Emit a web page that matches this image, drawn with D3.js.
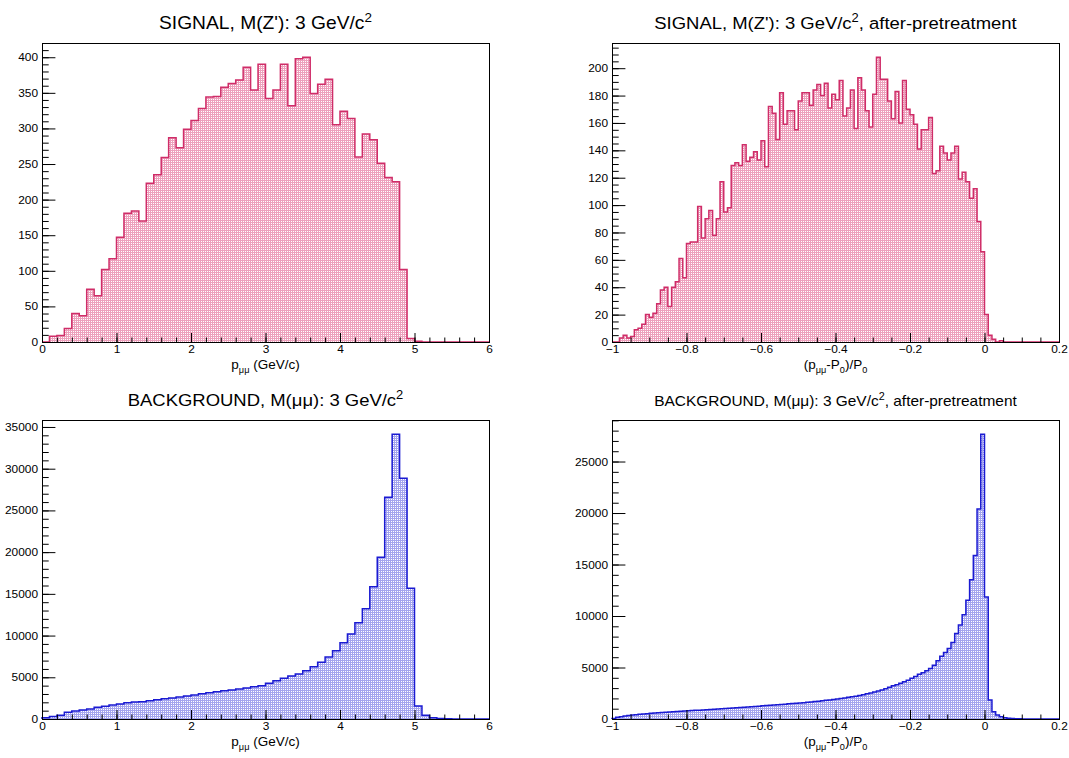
<!DOCTYPE html>
<html><head><meta charset="utf-8">
<script src="https://cdn.jsdelivr.net/npm/d3@7"></script>
<style>
html,body{margin:0;padding:0;background:#fff;}
svg{display:block;}
text{font-family:"Liberation Sans",Arial,Helvetica,sans-serif;fill:#000;}
</style>
</head><body>
<svg id="c" width="1069" height="758"></svg>
<script>
// ---------------- DATA ----------------
// Signal, p_mumu (GeV/c), 60 bins from 0 to 6
const signalP = [0,8,9,19,40,37,74,65,102,117,147,181,184,170,223,235,259,287,273,299,
  311,328,344,345,358,363,368,386,354,390,342,354,390,332,398,400,349,362,369,305,
  324,314,260,292,284,251,231,225,102,5,1,0,0,0,0,0,0,0,0,0];
// Signal, (p_mumu-P0)/P0, 120 bins from -1 to 0.2
const signalRel = [0,0,3,5,3,4,9,10,13,20, 18,21,28,38,40,26,40,44,61,47,
  72,73,73,99,76,90,96,78,90,117, 95,98,129,131,129,144,132,135,139,133,
  147,128,172,167,148,182,159,169,169,155, 176,182,182,173,184,188,180,189,171,181,
  177,191,165,171,184,156,193,184,169,157, 181,208,192,192,176,163,183,160,191,170,
  166,159,141,155,155,164,123,125,143,138, 133,138,143,119,124,117,105,112,88,66,
  20,5,2,0,1,0,0,0,0,0, 0,0,0,0,0,0,0,0,0,0];
// Background, p_mumu (GeV/c), 60 bins from 0 to 6
const backgroundP = [150,300,440,800,960,1080,1200,1400,1520,1680,1800,1960,2040,2080,2200,2320,2440,2520,2640,2760,
  2880,3040,3160,3280,3400,3480,3600,3720,3880,4000,4274,4594,4874,5153,5393,5792,6272,6791,7430,8189,
  9148,10187,11545,13222,15859,19375,26565,34130,28842,15659,1558,450,150,60,30,15,10,5,3,2];
// Background, (p_mumu-P0)/P0, 120 bins from -1 to 0.2
const backgroundRel = [60,170,230,290,340,380,420,455,490,520, 550,575,600,625,650,675,695,720,745,770,
  795,815,840,860,885,905,930,950,975,1000, 1025,1050,1075,1100,1125,1150,1175,1200,1225,1250,
  1280,1305,1330,1360,1385,1410,1440,1470,1500,1530, 1560,1590,1625,1660,1695,1730,1770,1810,1850,1890,
  1940,1990,2040,2100,2160,2220,2290,2360,2440,2520, 2610,2710,2806,2935,3080,3220,3330,3480,3613,3774,
  3950,4120,4355,4500,4680,4900,5230,5650,6100,6450, 6840,7420,8290,9130,10130,11520,13520,15870,20390,27650,
  11840,1840,710,390,230,130,70,40,25,15, 10,5,4,3,2,2,1,1,0,0];

const xTicksP = [0,1,2,3,4,5,6];
const xTicksRel = [-1,-0.8,-0.6,-0.4,-0.2,0,0.2];
const yTicksSignalP = [0,50,100,150,200,250,300,350,400];
const yTicksSignalRel = [0,20,40,60,80,100,120,140,160,180,200];
const yTicksBackgroundP = [0,5000,10000,15000,20000,25000,30000,35000];
const yTicksBackgroundRel = [0,5000,10000,15000,20000,25000];
const xDomainP = [0,6];
const xDomainRel = [-1,0.2];

// ---------------- LAYOUT ----------------
const svg = d3.select("#c");
svg.append("rect").attr("width",1069).attr("height",758).attr("fill","#fff");
const defs = svg.append("defs");
function makePattern(id, col){
  const p = defs.append("pattern").attr("id",id).attr("width",2).attr("height",2)
    .attr("patternUnits","userSpaceOnUse");
  p.append("rect").attr("width",2).attr("height",2).attr("fill",col);
  p.append("rect").attr("x",1).attr("y",1).attr("width",1).attr("height",1).attr("fill","#fff");
}
makePattern("patSig","#eda0bc");
makePattern("patBkg","#a4a4ee");

const SX = 1.08; // horizontal text stretch
function stretchText(sel){
  sel.each(function(){
    const t = d3.select(this);
    const tx = +t.attr("x") || 0;
    t.attr("transform", `translate(${tx},0) scale(${SX},1) translate(${-tx},0)`);
  });
}

const fmt = d3.format("~g");

const panels = [
  {values: signalP, xDomain: xDomainP, xTicks: xTicksP, xMinor: 0.2, yTicks: yTicksSignalP, yMinor: 10,
   left:42, right:489, top:43, bottom:342, pat:"patSig", line:"#cf2d68",
   title:["SIGNAL, M(Z'): 3 GeV/c","2",""], tsize:17.8, xtitle:"p"},
  {values: signalRel, xDomain: xDomainRel, xTicks: xTicksRel, xMinor: 0.05, yTicks: yTicksSignalRel, yMinor: 5,
   left:612, right:1059, top:43, bottom:342, pat:"patSig", line:"#cf2d68",
   title:["SIGNAL, M(Z'): 3 GeV/c","2",", after-pretreatment"], tsize:17.1, xtitle:"rel"},
  {values: backgroundP, xDomain: xDomainP, xTicks: xTicksP, xMinor: 0.2, yTicks: yTicksBackgroundP, yMinor: 1000,
   left:42, right:489, top:420, bottom:719, pat:"patBkg", line:"#1a1ad2",
   title:["BACKGROUND, M(\u03bc\u03bc): 3 GeV/c","2",""], tsize:17.1, xtitle:"p"},
  {values: backgroundRel, xDomain: xDomainRel, xTicks: xTicksRel, xMinor: 0.05, yTicks: yTicksBackgroundRel, yMinor: 1000,
   left:612, right:1059, top:420, bottom:719, pat:"patBkg", line:"#1a1ad2",
   title:["BACKGROUND, M(\u03bc\u03bc): 3 GeV/c","2",", after-pretreatment"], tsize:14.3, xtitle:"rel"}
];

panels.forEach(cfg => {
  const g = svg.append("g");
  const x = d3.scaleLinear().domain(cfg.xDomain).range([cfg.left, cfg.right]);
  const ymax = 1.05 * d3.max(cfg.values);
  const y = d3.scaleLinear().domain([0, ymax]).range([cfg.bottom, cfg.top]);
  const n = cfg.values.length;
  const w = (cfg.xDomain[1] - cfg.xDomain[0]) / n;
  const pts = [[x(cfg.xDomain[0]), y(0)]];
  cfg.values.forEach((v,i) => {
    const x0 = x(cfg.xDomain[0] + i*w), x1 = x(cfg.xDomain[0] + (i+1)*w);
    pts.push([x0, y(v)], [x1, y(v)]);
  });
  pts.push([x(cfg.xDomain[1]), y(0)]);
  const line = d3.line();
  g.append("path").attr("d", line(pts) + "Z").attr("fill", `url(#${cfg.pat})`);
  g.append("path").attr("d", line(pts)).attr("fill","none").attr("stroke", cfg.line)
    .attr("stroke-width", 1.5).attr("stroke-linejoin","miter");

  const W = cfg.right - cfg.left, H = cfg.bottom - cfg.top;
  const majX = 0.03*H, majY = 0.03*W;

  const xmin = d3.range(Math.round((cfg.xDomain[1]-cfg.xDomain[0])/cfg.xMinor)+1).map(i => cfg.xDomain[0] + i*cfg.xMinor);
  const gxm = g.append("g").attr("transform",`translate(0,${cfg.bottom})`)
    .call(d3.axisBottom(x).tickValues(xmin).tickFormat(()=>"").tickSizeInner(-majX/2).tickSizeOuter(0));
  const gx = g.append("g").attr("transform",`translate(0,${cfg.bottom})`)
    .call(d3.axisBottom(x).tickValues(cfg.xTicks).tickFormat(fmt).tickSizeInner(-majX).tickSizeOuter(0).tickPadding(3));
  const ymin = d3.range(Math.floor(ymax/cfg.yMinor)+1).map(i => i*cfg.yMinor);
  const gym = g.append("g").attr("transform",`translate(${cfg.left},0)`)
    .call(d3.axisLeft(y).tickValues(ymin).tickFormat(()=>"").tickSizeInner(-majY/2).tickSizeOuter(0));
  const gy = g.append("g").attr("transform",`translate(${cfg.left},0)`)
    .call(d3.axisLeft(y).tickValues(cfg.yTicks).tickFormat(fmt).tickSizeInner(-majY).tickSizeOuter(0).tickPadding(4));
  [gxm,gx,gym,gy].forEach(a => { a.select(".domain").remove(); a.selectAll("line").attr("stroke","#000"); });
  [gx,gy].forEach(a => a.selectAll("text").attr("font-size",11).attr("font-family",null).attr("fill","#000"));
  stretchText(gx.selectAll("text"));
  stretchText(gy.selectAll("text"));

  g.append("rect").attr("x",cfg.left+0.5).attr("y",cfg.top+0.5).attr("width",W).attr("height",H)
    .attr("fill","none").attr("stroke","#000").attr("stroke-width",1);

  const cx = (cfg.left + cfg.right)/2;
  const tg = g.append("g").attr("transform",`translate(${cx},${cfg.top-14}) scale(${SX},1)`);
  const t = tg.append("text").attr("text-anchor","middle").attr("font-size",cfg.tsize);
  t.append("tspan").text(cfg.title[0]);
  t.append("tspan").attr("font-size",cfg.tsize*0.7).attr("dy",-cfg.tsize*0.42).text(cfg.title[1]);
  if (cfg.title[2]) t.append("tspan").attr("dy",cfg.tsize*0.42).text(cfg.title[2]);

  const xg = g.append("g").attr("transform",`translate(${cx},${cfg.bottom+27}) scale(${SX},1)`);
  const xt = xg.append("text").attr("text-anchor","middle").attr("font-size",12.5);
  const sub = (s) => { xt.append("tspan").attr("font-size",8.5).attr("dy",4).text(s); };
  const norm = (s) => { xt.append("tspan").attr("dy",-4).text(s); };
  if (cfg.xtitle === "p") {
    xt.append("tspan").text("p");
    sub("\u03bc\u03bc");
    norm(" (GeV/c)");
  } else {
    xt.append("tspan").text("(p");
    sub("\u03bc\u03bc");
    norm("-P");
    sub("0");
    norm(")/P");
    sub("0");
  }
});
</script>
</body></html>
